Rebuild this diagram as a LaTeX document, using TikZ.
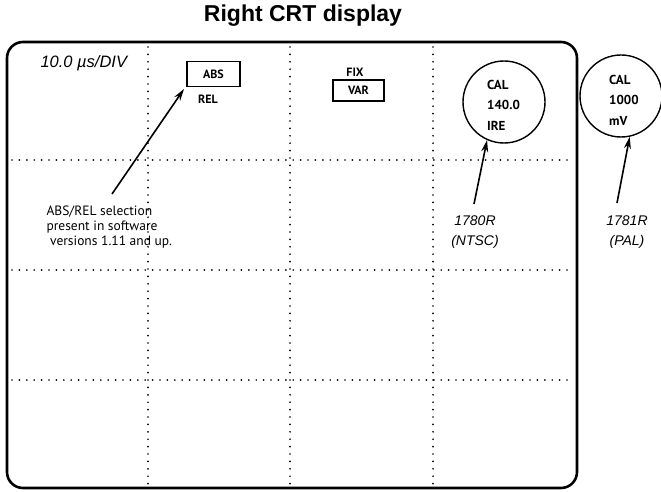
\documentclass[tikz,border=0pt]{standalone}
\usepackage{fontspec}
\setmainfont{Liberation Sans}
\newfontfamily\keyfont{PT Sans}
\usetikzlibrary{arrows.meta}
\tikzset{
  crtframe/.style = {line width=2.6pt, rounded corners=16pt},
  crtgrid/.style = {line width=1.9pt, line cap=round, dash pattern=on 0pt off 7.4pt},
  softkey/.style = {font=\keyfont\fontsize{12}{13}\selectfont\bfseries, inner sep=0pt},
  keybox/.style = {softkey, draw, line width=1.4pt},
  calring/.style = {draw, circle, line width=1.4pt, minimum size=82pt, inner sep=0pt},
  callout/.style = {font=\fontsize{14}{20}\selectfont\itshape, align=center},
  pointer/.style = {-{Stealth[length=12pt,width=7pt]}, line width=1.6pt}
}
\tikzset{>=Stealth}

\begin{document}
\begin{tikzpicture}[x=1pt,y=-1pt]
  \useasboundingbox (0,0) rectangle (661,492);
  % title
  \node (title) at (303,16) {\fontsize{23}{26}\selectfont\bfseries Right CRT display};
  % graticule
  \foreach \x in {148,290,433}
    \draw[crtgrid] (\x,47) -- (\x,486);
  \foreach \y in {160,270,380}
    \draw[crtgrid] (12,\y) -- (574,\y);
  \draw[crtframe] (7,42) rectangle (577,488);
  % readouts
  \node[anchor=west,font=\fontsize{16.5}{18}\selectfont\itshape] (timebase) at (37,63) {10.0 µs/DIV};
  \node[keybox,minimum width=53pt,minimum height=25pt,text depth=-6pt] (abs) at (213.5,74) {ABS};
  \node[softkey] (rel) at (208,99) {REL};
  \node[softkey] (fix) at (355,72) {FIX};
  \node[keybox,minimum width=51pt,minimum height=21pt] (var) at (358.5,90.5) {VAR};
  % cal readouts
  \node[calring] (ntsc) at (504,102) {};
  \node[softkey,anchor=west,align=left,font=\keyfont\fontsize{13}{20.5}\selectfont\bfseries] (ntsctext) at (487,105) {CAL\\140.0\\IRE};
  \node[calring] (pal) at (621,96) {};
  \node[softkey,anchor=west,align=left,font=\keyfont\fontsize{13}{20.5}\selectfont\bfseries] (paltext) at (609,100) {CAL\\1000\\mV};
  % notes
  \node[callout] (ntscnote) at (475,232) {1780R\\(NTSC)};
  \node[callout] (palnote) at (627,232) {1781R\\(PAL)};
  \node[anchor=north west,align=left,font=\keyfont\fontsize{13.5}{15}\selectfont] (absnote) at (43,202)
    {ABS/REL selection\\present in software\\\ versions 1.11 and up.};
  % pointers
  \coordinate (abstail) at (112,194);
  \coordinate (abstip) at (184,89);
  \coordinate (ntsctail) at (474,204);
  \coordinate (paltail) at (617,203);
  \draw[pointer] (abstail) -- (abstip);
  \draw[pointer] (ntsctail) -- (ntsc.-114);
  \draw[pointer] (paltail) -- (pal.-78);
\end{tikzpicture}
\end{document}
